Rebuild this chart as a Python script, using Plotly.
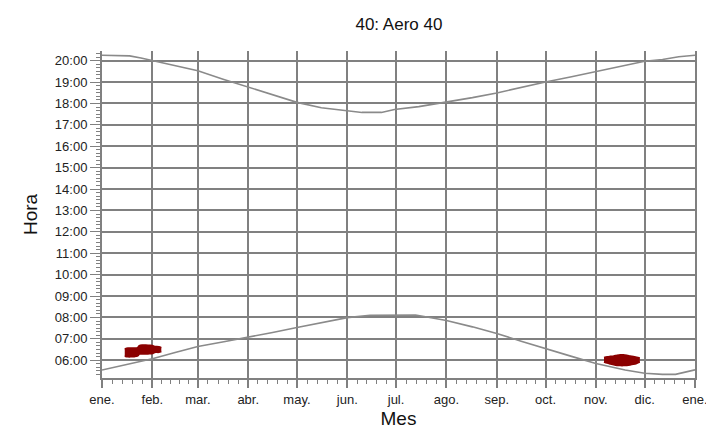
import plotly.graph_objects as go

# ---- data ----
month_starts = [0, 31, 59, 90, 120, 151, 181, 212, 243, 273, 304, 334, 365]
month_labels = ["ene.", "feb.", "mar.", "abr.", "may.", "jun.", "jul.",
                "ago.", "sep.", "oct.", "nov.", "dic.", "ene."]

hour_ticks = [6, 7, 8, 9, 10, 11, 12, 13, 14, 15, 16, 17, 18, 19, 20]
hour_labels = ["06:00", "07:00", "08:00", "09:00", "10:00", "11:00", "12:00",
               "13:00", "14:00", "15:00", "16:00", "17:00", "18:00", "19:00", "20:00"]

# sunset (hours) by day of year
sunset_day = [0, 10, 17, 24, 31, 45, 59, 75, 90, 105, 120, 135, 150, 160, 172,
              180, 195, 212, 228, 243, 258, 273, 289, 304, 319, 334, 345, 355, 365]
sunset_hour = [20.25, 20.25, 20.22, 20.12, 20.0, 19.78, 19.53, 19.12, 18.77, 18.40,
               18.05, 17.80, 17.66, 17.58, 17.58, 17.72, 17.85, 18.05, 18.27, 18.49,
               18.75, 19.0, 19.25, 19.5, 19.75, 19.97, 20.05, 20.18, 20.25]

# sunrise (hours) by day of year
sunrise_day = [0, 15, 31, 45, 59, 75, 90, 105, 120, 135, 151, 165, 180, 193, 200,
               212, 228, 243, 258, 273, 289, 304, 315, 322, 334, 345, 353, 360, 365]
sunrise_hour = [5.54, 5.80, 6.07, 6.36, 6.64, 6.86, 7.07, 7.30, 7.53, 7.76, 7.99,
                8.10, 8.11, 8.11, 8.02, 7.86, 7.56, 7.25, 6.89, 6.53, 6.18, 5.85,
                5.65, 5.54, 5.39, 5.34, 5.34, 5.45, 5.55]

# shadow events: start / end hours per day
jan_day = [14, 16, 18, 20, 22, 23, 25, 27, 29, 31, 32, 33, 35, 36.5]
jan_start = [6.20, 6.17, 6.17, 6.18, 6.22, 6.30, 6.30, 6.30, 6.31, 6.32, 6.36, 6.38, 6.38, 6.42]
jan_end = [6.52, 6.56, 6.56, 6.56, 6.58, 6.67, 6.70, 6.70, 6.69, 6.68, 6.64, 6.63, 6.62, 6.58]

nov_day = [309, 311, 313, 315, 317, 319, 321, 323, 325, 327, 329, 331]
nov_start = [5.93, 5.88, 5.84, 5.80, 5.77, 5.76, 5.76, 5.77, 5.79, 5.82, 5.86, 5.92]
nov_end = [6.12, 6.15, 6.17, 6.19, 6.22, 6.24, 6.24, 6.22, 6.19, 6.16, 6.13, 6.09]

# ---- figure ----
GRID = "#808080"
CURVE = "#8a8a8a"
RED = "#8b0000"

# minor x ticks: 5 intervals per month
minor_x = []
for a, b in zip(month_starts[:-1], month_starts[1:]):
    for k in range(1, 5):
        minor_x.append(a + (b - a) * k / 5)

fig = go.Figure()
fig.add_trace(go.Scatter(x=sunset_day, y=sunset_hour, mode="lines",
                         line=dict(color=CURVE, width=1.6), hoverinfo="skip"))
fig.add_trace(go.Scatter(x=sunrise_day, y=sunrise_hour, mode="lines",
                         line=dict(color=CURVE, width=1.6), hoverinfo="skip"))

for d, s, e in [(jan_day, jan_start, jan_end), (nov_day, nov_start, nov_end)]:
    fig.add_trace(go.Scatter(x=d, y=s, mode="lines",
                             line=dict(color=RED, width=2, shape="spline"),
                             hoverinfo="skip"))
    fig.add_trace(go.Scatter(x=d, y=e, mode="lines", fill="tonexty",
                             fillcolor=RED,
                             line=dict(color=RED, width=2, shape="spline"),
                             hoverinfo="skip"))

fig.update_layout(
    width=714, height=430,
    margin=dict(l=94, r=27, t=43, b=54),
    paper_bgcolor="white", plot_bgcolor="white",
    showlegend=False,
    font=dict(family="Liberation Sans, Arial, sans-serif", color="#222222"),
    title=dict(text="40: Aero 40", x=0.5475, xanchor="center", y=0.962,
               yanchor="middle", font=dict(size=17, color="#111111")),
)
fig.update_xaxes(
    range=[0, 365], tickmode="array", tickvals=month_starts, ticktext=month_labels,
    showgrid=True, gridcolor=GRID, gridwidth=2,
    showline=True, linecolor=GRID, linewidth=2, mirror=False,
    ticks="outside", ticklen=8, tickcolor=GRID, tickwidth=1.5,
    tickfont=dict(size=13, color="#222222"),
    zeroline=False,
    minor=dict(tickmode="array", tickvals=minor_x, ticks="outside", ticklen=4,
               tickcolor=GRID, tickwidth=1, showgrid=False),
    title=dict(text="Mes", font=dict(size=19, color="#111111"), standoff=6),
)
fig.update_yaxes(
    range=[5.17, 20.45], tickmode="array", tickvals=hour_ticks, ticktext=hour_labels,
    showgrid=True, gridcolor=GRID, gridwidth=2,
    showline=True, linecolor=GRID, linewidth=2, mirror=True,
    ticks="outside", ticklen=10, tickcolor=GRID, tickwidth=1,
    tickfont=dict(size=13, color="#222222"),
    zeroline=False,
    minor=dict(tickmode="linear", tick0=6, dtick=1/6, ticks="outside", ticklen=4,
               tickcolor=GRID, tickwidth=1, showgrid=False),
    title=dict(text="Hora", font=dict(size=19, color="#111111"), standoff=12),
)

fig.write_html("out.html")
